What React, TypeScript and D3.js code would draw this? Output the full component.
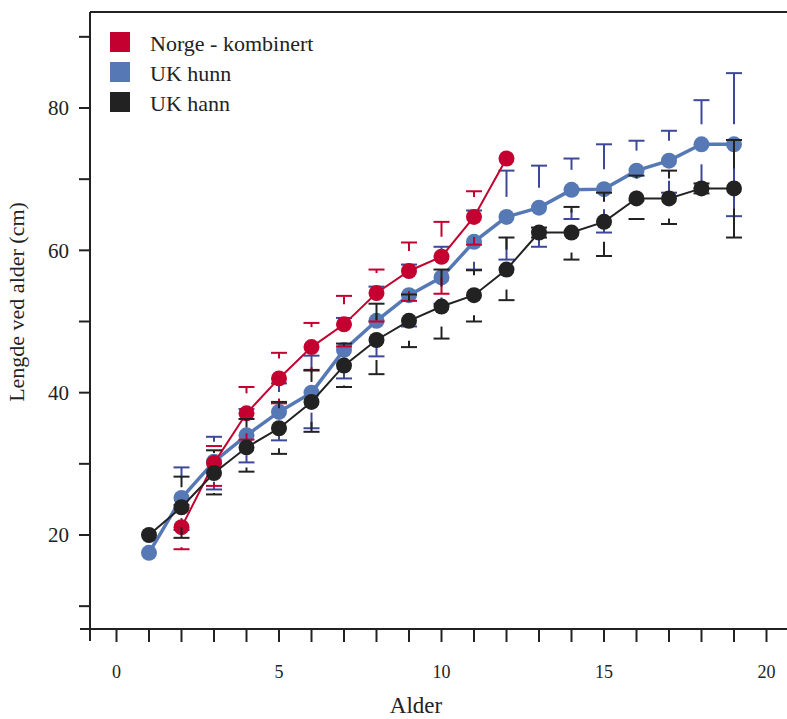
import React from 'react';
import * as d3 from 'd3';

const agesBlue = [1, 2, 3, 4, 5, 6, 7, 8, 9, 10, 11, 12, 13, 14, 15, 16, 17, 18, 19];
const agesBlack = [1, 2, 3, 4, 5, 6, 7, 8, 9, 10, 11, 12, 13, 14, 15, 16, 17, 18, 19];
const agesRed = [2, 3, 4, 5, 6, 7, 8, 9, 10, 11, 12];

const blueMean = [17.5, 25.2, 30.3, 34.0, 37.3, 40.0, 46.0, 50.1, 53.7, 56.2, 61.2, 64.7, 66.0, 68.5, 68.6, 71.2, 72.6, 74.9, 74.9];
const blueUpper = [null, 29.5, 33.8, 37.7, 41.3, 45.2, 50.5, 54.9, 58.0, 60.5, 65.6, 71.2, 71.9, 72.9, 74.9, 75.4, 76.8, 81.1, 84.9];
const blueLower = [null, 20.7, 26.4, 30.2, 33.3, 35.0, 42.0, 45.1, 49.3, 52.5, 57.3, 58.7, 60.5, 64.4, 62.5, 67.0, 68.1, 68.7, 64.8];

const blackMean = [20.0, 23.9, 28.7, 32.3, 35.0, 38.7, 43.8, 47.4, 50.1, 52.1, 53.7, 57.3, 62.5, 62.5, 64.0, 67.3, 67.3, 68.7, 68.7];
const blackUpper = [null, 28.2, 31.9, 36.3, 38.7, 43.2, 46.9, 52.5, 53.8, 57.3, 57.2, 61.8, 63.2, 66.1, 68.1, 70.5, 71.2, 69.4, 75.5];
const blackLower = [null, 19.6, 25.7, 28.9, 31.4, 34.5, 40.8, 42.6, 46.4, 47.6, 50.0, 53.0, 61.8, 58.7, 59.2, 64.4, 63.7, 68.0, 61.8];

const redMean = [21.1, 30.1, 37.1, 42.0, 46.4, 49.6, 54.0, 57.1, 59.1, 64.7, 72.9];
const redUpper = [24.2, 32.5, 40.8, 45.6, 49.8, 53.6, 57.3, 61.1, 64.0, 68.3, null];
const redLower = [18.0, 26.9, 33.4, 38.5, 43.1, 46.5, 50.0, 52.9, 53.9, 60.8, null];

const legendLabels = ['Norge - kombinert', 'UK hunn', 'UK hann'];
const xTickLabels = [0, 5, 10, 15, 20];
const xMinorTicks = [0, 1, 2, 3, 4, 5, 6, 7, 8, 9, 10, 11, 12, 13, 14, 15, 16, 17, 18, 19, 20];
const yTickLabels = [20, 40, 60, 80];
const yMinorTicks = [10, 20, 30, 40, 50, 60, 70, 80, 90];

const RED = '#c3002f';
const BLUE = '#5679b6';
const BLUE_ERR = '#3d4898';
const BLACK = '#222222';
const FONT = '"Liberation Serif", "DejaVu Serif", serif';

const x = d3.scaleLinear().domain([0, 20]).range([116.5, 766.5]);
const y = d3.scaleLinear().domain([20, 80]).range([535, 108]);

const GAP = 20;
const CAP = 8;

type Series = {
  ages: number[];
  mean: number[];
  upper: (number | null)[];
  lower: (number | null)[];
  color: string;
  errColor: string;
  lw: number;
};

const seriesList: Series[] = [
  { ages: agesBlue, mean: blueMean, upper: blueUpper, lower: blueLower, color: BLUE, errColor: BLUE_ERR, lw: 3.5 },
  { ages: agesRed, mean: redMean, upper: redUpper, lower: redLower, color: RED, errColor: RED, lw: 2 },
  { ages: agesBlack, mean: blackMean, upper: blackUpper, lower: blackLower, color: BLACK, errColor: BLACK, lw: 2 },
];

function SeriesG({ s }: { s: Series }) {
  const line = d3.line<number>().x((_, i) => x(s.ages[i])).y((d) => y(d));
  const bars: JSX.Element[] = [];
  s.ages.forEach((a, i) => {
    const cx = x(a);
    const cy = y(s.mean[i]);
    const u = s.upper[i];
    const l = s.lower[i];
    if (u != null) {
      const yu = y(u);
      if (yu < cy - GAP) bars.push(<line key={'us' + i} x1={cx} x2={cx} y1={yu} y2={cy - GAP} stroke={s.errColor} strokeWidth={2} />);
      bars.push(<line key={'uc' + i} x1={cx - CAP} x2={cx + CAP} y1={yu} y2={yu} stroke={s.errColor} strokeWidth={2} />);
    }
    if (l != null) {
      const yl = y(l);
      if (yl > cy + GAP) bars.push(<line key={'ls' + i} x1={cx} x2={cx} y1={yl} y2={cy + GAP} stroke={s.errColor} strokeWidth={2} />);
      bars.push(<line key={'lc' + i} x1={cx - CAP} x2={cx + CAP} y1={yl} y2={yl} stroke={s.errColor} strokeWidth={2} />);
    }
  });
  return (
    <g>
      {bars}
      <path d={line(s.mean) || ''} fill="none" stroke={s.color} strokeWidth={s.lw} />
      {s.mean.map((m, i) => (
        <circle key={i} cx={x(s.ages[i])} cy={y(m)} r={8} fill={s.color} />
      ))}
    </g>
  );
}

export default function App() {
  const left = 90;
  const top = 12;
  const bottom = 629;
  const legendColors = [RED, BLUE, BLACK];
  return (
    <svg width={787} height={719} style={{ position: 'absolute', left: 0, top: 0, background: '#fff' }}>
      <rect x={0} y={0} width={787} height={719} fill="#fff" />
      <line x1={left} x2={800} y1={top} y2={top} stroke={BLACK} strokeWidth={2} />
      <line x1={left} x2={left} y1={top} y2={641} stroke={BLACK} strokeWidth={2} />
      <line x1={80} x2={800} y1={bottom} y2={bottom} stroke={BLACK} strokeWidth={2} />
      {yMinorTicks.map((t) => (
        <line key={'yt' + t} x1={79} x2={left} y1={y(t)} y2={y(t)} stroke={BLACK} strokeWidth={2} />
      ))}
      {yTickLabels.map((t) => (
        <text key={'yl' + t} x={69} y={y(t)} dy="0.35em" textAnchor="end" fontFamily={FONT} fontSize={21} fill={BLACK}>
          {t}
        </text>
      ))}
      {xMinorTicks.map((t) => (
        <line key={'xt' + t} x1={x(t)} x2={x(t)} y1={bottom} y2={642} stroke={BLACK} strokeWidth={2} />
      ))}
      {xTickLabels.map((t) => (
        <text key={'xl' + t} x={x(t)} y={678} textAnchor="middle" fontFamily={FONT} fontSize={18} fill={BLACK}>
          {t}
        </text>
      ))}
      <text x={416} y={713} textAnchor="middle" fontFamily={FONT} fontSize={23} fill={BLACK}>
        Alder
      </text>
      <text
        transform={`translate(24, 302) rotate(-90)`}
        textAnchor="middle"
        fontFamily={FONT}
        fontSize={22}
        fill={BLACK}
      >
        Lengde ved alder (cm)
      </text>
      {seriesList.map((s, i) => (
        <SeriesG key={i} s={s} />
      ))}
      {legendLabels.map((lab, i) => (
        <g key={lab}>
          <rect x={110} y={32 + i * 30} width={20} height={20} fill={legendColors[i]} />
          <text x={150} y={51 + i * 30} fontFamily={FONT} fontSize={22} fill={BLACK}>
            {lab}
          </text>
        </g>
      ))}
    </svg>
  );
}
